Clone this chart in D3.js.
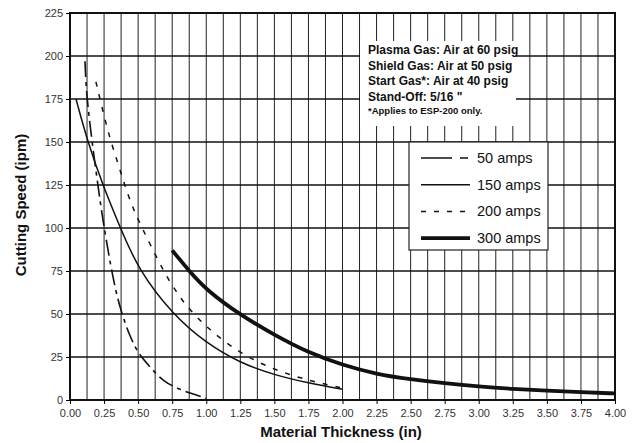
<!DOCTYPE html>
<html>
<head>
<meta charset="utf-8">
<script src="https://cdn.jsdelivr.net/npm/d3@7"></script>
<style>
body{margin:0;background:#fff;}
text{font-family:"Liberation Sans",Arial,sans-serif;}
</style>
</head>
<body>
<script>
// readings (thickness in, speed ipm)
var amps50 = [[0.11,197],[0.12,178],[0.16,151],[0.21,122],[0.24,105],[0.32,68],[0.38,50],[0.44,37],[0.50,27],[0.59,19],[0.68,11],[0.81,5.8],[0.93,2.9],[1.0,1]];
var amps150 = [[0.044,175],[0.13,150],[0.24,125],[0.37,100],[0.5,76],[0.75,50],[1.0,33],[1.25,21.5],[1.5,14.5],[1.75,9.8],[2.0,6.2]];
var amps200 = [[0.19,185],[0.28,155],[0.345,139.5],[0.40,125],[0.46,112],[0.50,105],[0.59,90],[0.72,70],[0.79,62],[0.84,56],[1.0,42],[1.25,27],[1.5,17.4],[1.78,10.7],[2.0,7]];
var amps300 = [[0.75,87],[0.875,75],[1.0,64],[1.25,49.4],[1.5,37.8],[1.75,27.5],[2.0,20.3],[2.25,15],[2.5,12],[2.75,9.7],[3.0,7.8],[3.25,6.4],[3.5,5.4],[3.75,4.5],[4.0,3.8]];
var seriesNames = ["50 amps","150 amps","200 amps","300 amps"];
var xTicks = d3.range(0, 4.001, 0.25);
var xGrid = d3.range(0, 4.001, 0.125);
var yTicks = d3.range(0, 226, 25);
var notes = ["Plasma Gas: Air at 60 psig","Shield Gas: Air at 50 psig","Start Gas*: Air at 40 psig","Stand-Off: 5/16 \"","*Applies to ESP-200 only."];

var series = [amps50, amps150, amps200, amps300];
var styles = [
  {w:1.6, dash:"16,5,4,5"},
  {w:1.5, dash:null},
  {w:1.5, dash:"5,8"},
  {w:3.8, dash:null}
];

var svg = d3.select("body").append("svg").attr("width",638).attr("height",443);

var x = d3.scaleLinear().domain([0,4]).range([70,615]);
var y = d3.scaleLinear().domain([0,225]).range([400,13]);

// grid
svg.append("g").selectAll("line").data(xGrid).enter().append("line")
   .attr("x1",function(d){return x(d);}).attr("x2",function(d){return x(d);})
   .attr("y1",y(225)).attr("y2",y(0))
   .attr("stroke","#222").attr("stroke-width",1);
svg.append("g").selectAll("line").data(yTicks).enter().append("line")
   .attr("x1",x(0)).attr("x2",x(4))
   .attr("y1",function(d){return y(d);}).attr("y2",function(d){return y(d);})
   .attr("stroke","#111").attr("stroke-width",1.5);

// frame
svg.append("rect").attr("x",x(0)).attr("y",y(225)).attr("width",x(4)-x(0)).attr("height",y(0)-y(225))
   .attr("fill","none").attr("stroke","#111").attr("stroke-width",2);

// note box (covers grid)
svg.append("rect").attr("x",360).attr("y",41).attr("width",156).attr("height",85).attr("fill","#fff");
svg.append("g").selectAll("text").data(notes).enter().append("text")
   .attr("x",368)
   .attr("y",function(d,i){return [54,70,85,101,114][i];})
   .attr("font-size",function(d,i){return i==4?9.5:12;})
   .attr("font-weight","bold").attr("fill","#111")
   .text(function(d){return d;});

// axes
var xAxis = d3.axisBottom(x).tickValues(xTicks).tickSize(4).tickFormat(d3.format(".2f"));
var yAxis = d3.axisLeft(y).tickValues(yTicks).tickSize(4);
svg.append("g").attr("transform","translate(0,"+y(0)+")").call(xAxis)
   .call(function(g){g.select(".domain").remove();
     g.selectAll("text").attr("font-size",11).attr("fill","#333").attr("font-family","Liberation Sans,Arial,sans-serif").attr("dy","0.9em");});
svg.append("g").attr("transform","translate("+x(0)+",0)").call(yAxis)
   .call(function(g){g.select(".domain").remove();
     g.selectAll("text").attr("font-size",11).attr("fill","#333").attr("font-family","Liberation Sans,Arial,sans-serif");});

svg.append("text").attr("x",341).attr("y",437).attr("text-anchor","middle")
   .attr("font-size",15).attr("font-weight","bold").attr("fill","#111").text("Material Thickness (in)");
svg.append("text").attr("transform","translate(26,205) rotate(-90)").attr("text-anchor","middle")
   .attr("font-size",15).attr("font-weight","bold").attr("fill","#111").text("Cutting Speed (ipm)");

// curves
var line = d3.line().x(function(d){return x(d[0]);}).y(function(d){return y(d[1]);}).curve(d3.curveBasis);
svg.append("g").selectAll("path").data(series).enter().append("path")
   .attr("d",line).attr("fill","none").attr("stroke","#111")
   .attr("stroke-width",function(d,i){return styles[i].w;})
   .attr("stroke-dasharray",function(d,i){return styles[i].dash;});

// legend
var lg = svg.append("g");
lg.append("rect").attr("x",409).attr("y",142).attr("width",139).attr("height",108)
  .attr("fill","#fff").attr("stroke","#222").attr("stroke-width",1.2);
var rows = lg.selectAll("g").data(seriesNames).enter().append("g")
  .attr("transform",function(d,i){return "translate(0,"+(158+i*26.7)+")";});
rows.append("line").attr("x1",421).attr("x2",470).attr("y1",0).attr("y2",0)
  .attr("stroke","#111")
  .attr("stroke-width",function(d,i){return styles[i].w;})
  .attr("stroke-dasharray",function(d,i){return i==0?"31,8,8,4":styles[i].dash;});
rows.append("text").attr("x",477).attr("y",5).attr("font-size",14.5).attr("fill","#111")
  .text(function(d){return d;});
</script>
</body>
</html>
